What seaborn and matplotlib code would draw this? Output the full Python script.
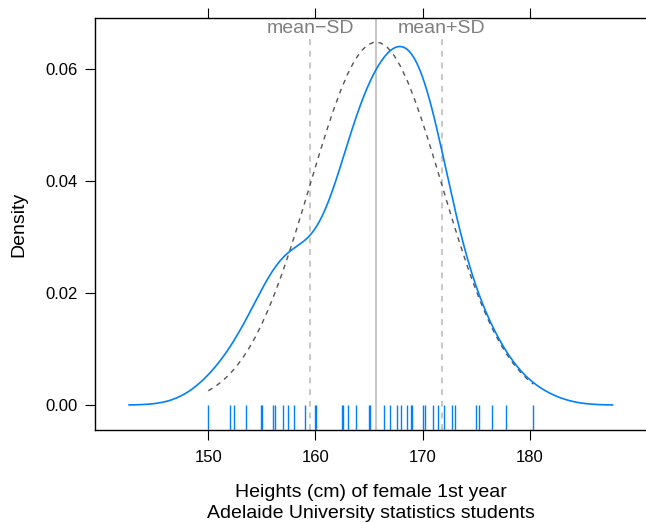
import numpy as np
import pandas as pd
import matplotlib
matplotlib.use("Agg")
import matplotlib.pyplot as plt
import seaborn as sns

# distinct heights seen in the rug (cm) and how many students have each
height_values = [150, 152, 152.4, 153.5, 154.94, 155, 156, 156.21, 157, 157.48, 158, 159, 160, 160.02,
                 162.5, 162.56, 163, 163.83, 165, 165.1, 166.37, 167, 167.64, 168, 168.5, 168.91, 169,
                 170, 170.18, 171, 171.45, 172, 172.72, 173, 175, 175.26, 176.5, 177.8, 180.34]
height_counts = [1, 1, 1, 1, 1, 2, 1, 1, 4, 1, 2, 3, 2, 1, 5, 2, 3, 5, 5, 3, 7, 3, 4, 1, 5, 2, 2,
                 6, 3, 5, 3, 2, 1, 1, 4, 1, 1, 1, 1]
mean_height = 165.65
sd_height = 6.15
bandwidth = 2.47
x_ticks = [150, 160, 170, 180]
y_ticks = [0.00, 0.02, 0.04, 0.06]
y_tick_labels = ["0.00", "0.02", "0.04", "0.06"]
sd_labels = ["mean\u2212SD", "mean+SD"]

heights = np.repeat(np.array(height_values, float), height_counts)

# Gaussian kernel density (R's density(), cut = 3)
grid = np.linspace(heights.min() - 3 * bandwidth, heights.max() + 3 * bandwidth, 512)
dens = np.exp(-0.5 * ((grid[:, None] - heights[None, :]) / bandwidth) ** 2).sum(axis=1) \
    / (len(heights) * bandwidth * np.sqrt(2 * np.pi))
kde_df = pd.DataFrame({"height": grid, "density": dens})

# reference normal curve over the data range
xn = np.linspace(heights.min(), heights.max(), 50)
yn = np.exp(-0.5 * ((xn - mean_height) / sd_height) ** 2) / (sd_height * np.sqrt(2 * np.pi))
norm_df = pd.DataFrame({"height": xn, "density": yn})

sns.set_style("white")
plt.rcParams["font.family"] = ["Liberation Sans", "DejaVu Sans"]
plt.rcParams["text.color"] = "black"
plt.rcParams["axes.labelcolor"] = "black"
plt.rcParams["xtick.color"] = "black"
plt.rcParams["ytick.color"] = "black"

W, H = 646, 523
fig = plt.figure(figsize=(W / 100, H / 100), dpi=100)
ax = fig.add_axes([95 / W, 1 - 430 / H, (646 - 95) / W, (430 - 18.3) / H])

blue = "#0080ff"
grey = "#bebebe"
ymin, ymax = -0.00446, 0.0691
ax.set_xlim(139.43, 190.85)
ax.set_ylim(ymin, ymax)

# mean and mean +/- SD guides
ax.axvline(mean_height, color=grey, lw=1.2, zorder=1)
for k, lab in zip([-1, 1], sd_labels):
    xv = mean_height + k * sd_height
    ax.plot([xv, xv], [ymin, 0.0661], color=grey, lw=1.2, ls=(0, (3.5, 3.5)), zorder=1)
    ax.text(xv, 0.0673, lab, ha="center", va="center", fontsize=14, color="#7f7f7f")

sns.lineplot(data=norm_df, x="height", y="density", ax=ax, color="#555555", lw=1.0,
             linestyle=(0, (3.5, 3.5)), zorder=2)
sns.lineplot(data=kde_df, x="height", y="density", ax=ax, color=blue, lw=1.2, zorder=3)
sns.rugplot(x=np.array(height_values, float), ax=ax, height=25 / 411.7, color=blue, lw=1.0,
            expand_margins=False, zorder=3)

ax.set_xticks(x_ticks)
ax.set_xticklabels([str(t) for t in x_ticks])
ax.set_yticks(y_ticks)
ax.set_yticklabels(y_tick_labels)
ax.tick_params(axis="both", direction="out", length=7.2, width=0.8, color="black",
               labelsize=12, labelcolor="black")
ax.tick_params(axis="x", top=True, labeltop=False, bottom=True, pad=7)
ax.tick_params(axis="y", left=True, right=False, pad=5)
for side in ["left", "top", "bottom"]:
    ax.spines[side].set_visible(True)
    ax.spines[side].set_color("black")
    ax.spines[side].set_linewidth(1.0)
ax.spines["right"].set_visible(False)

ax.set_xlabel("Heights (cm) of female 1st year\nAdelaide University statistics students",
              fontsize=14, labelpad=14, linespacing=1.3, color="black")
ax.set_ylabel("Density", fontsize=14, labelpad=13, color="black")

fig.savefig("out.png", dpi=100)
